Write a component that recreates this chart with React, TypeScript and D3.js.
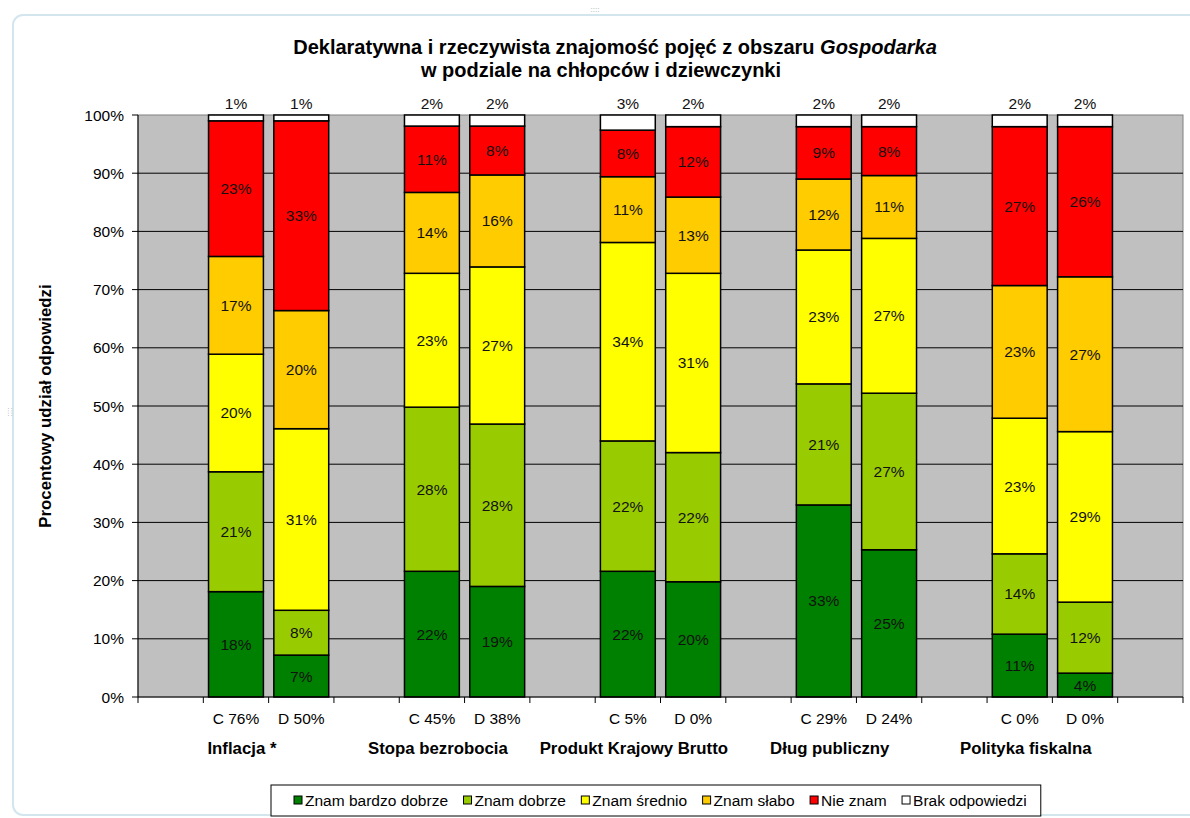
import React from "react";
import * as d3 from "d3";

// tytuł i kategorie
const titleLine1 = "Deklaratywna i rzeczywista znajomość pojęć z obszaru ";
const titleItalic = "Gospodarka";
const titleLine2 = "w podziale na chłopców i dziewczynki";
const yAxisTitle = "Procentowy udział odpowiedzi";

const categories = [
  "Inflacja *",
  "Stopa bezrobocia",
  "Produkt Krajowy Brutto",
  "Dług publiczny",
  "Polityka fiskalna",
];
const barLabels = [
  "C 76%", "D 50%",
  "C 45%", "D 38%",
  "C 5%", "D 0%",
  "C 29%", "D 24%",
  "C 0%", "D 0%",
];
const yTicks = [0, 10, 20, 30, 40, 50, 60, 70, 80, 90, 100];

// wartości (procent), po kolei: Inflacja C, D, Stopa C, D, PKB C, D, Dług C, D, Polityka C, D
const znamBardzoDobrze = [18.1, 7.2, 21.6, 19.0, 21.6, 19.8, 33.0, 25.3, 10.8, 4.1];
const znamDobrze = [20.6, 7.7, 28.2, 27.9, 22.4, 22.2, 20.8, 26.9, 13.8, 12.2];
const znamSrednio = [20.2, 31.2, 23.0, 27.0, 34.1, 30.8, 23.0, 26.6, 23.3, 29.3];
const znamSlabo = [16.8, 20.3, 13.9, 15.8, 11.3, 13.1, 12.2, 10.8, 22.8, 26.6];
const nieZnam = [23.3, 32.6, 11.4, 8.4, 8.0, 12.1, 9.0, 8.4, 27.3, 25.8];
const brakOdpowiedzi = [1.0, 1.0, 1.9, 1.9, 2.6, 2.0, 2.0, 2.0, 2.0, 2.0];

const seriesNames = [
  "Znam bardzo dobrze",
  "Znam dobrze",
  "Znam średnio",
  "Znam słabo",
  "Nie znam",
  "Brak odpowiedzi",
];
const seriesColors = ["#008000", "#99cc00", "#ffff00", "#ffcc00", "#ff0000", "#ffffff"];
const seriesValues = [znamBardzoDobrze, znamDobrze, znamSrednio, znamSlabo, nieZnam, brakOdpowiedzi];

const FONT = "Arial, 'Liberation Sans', Helvetica, sans-serif";
const FS = 15.5; // zwykły tekst
const FSB = 16.8; // pogrubione etykiety

function textWidth(text: string, font: string) {
  const c = document.createElement("canvas").getContext("2d");
  if (!c) return text.length * 7.5;
  c.font = font;
  return c.measureText(text).width;
}

export default function App() {
  const width = 1190;
  const height = 818;
  const plotLeft = 138;
  const plotRight = 1183;
  const plotTop = 115;
  const plotBottom = 697;

  // 16 miejsc: puste, C, D, puste, C, D, ... , puste
  const slotCount = categories.length * 3 + 1;
  const x = d3.scaleBand<number>().domain(d3.range(slotCount)).range([plotLeft, plotRight]);
  const y = d3.scaleLinear().domain([0, 100]).range([plotBottom, plotTop]);
  const slotOf = (i: number) => 1 + 3 * Math.floor(i / 2) + (i % 2);
  const barW = x.bandwidth() * 0.84;

  const stackData = barLabels.map((_, i) => {
    const row: Record<string, number> = {};
    seriesNames.forEach((s, k) => (row[s] = seriesValues[k][i]));
    return row;
  });
  const stacked = d3.stack<Record<string, number>>().keys(seriesNames)(stackData);

  // legenda
  const legendFont = `${FS}px ${FONT}`;
  const legendGap = 15.5;
  const legendItems: { name: string; color: string; x: number }[] = [];
  let lx = 294;
  seriesNames.forEach((s, k) => {
    legendItems.push({ name: s, color: seriesColors[k], x: lx });
    lx += 11 + textWidth(s, legendFont) + legendGap;
  });
  const legendRight = lx - legendGap + 14;

  return (
    <svg
      width={width}
      height={height}
      style={{ position: "absolute", left: 0, top: 0, background: "#fff" }}
      fontFamily={FONT}
    >
      <rect x={13} y={15} width={1200} height={800} rx={10} fill="#fff" stroke="#d3e6ee" strokeWidth={2} />
      <text x={595} y={12} fontSize={8} fill="#9aa" textAnchor="middle">::::</text>
      <text x={8} y={412} fontSize={8} fill="#9aa" textAnchor="middle" transform="rotate(90 8 412)">::::</text>

      {/* tytuł */}
      <text x={615} y={54} textAnchor="middle" fontSize={20} fontWeight="bold">
        {titleLine1}
        <tspan fontStyle="italic">{titleItalic}</tspan>
      </text>
      <text x={601} y={77} textAnchor="middle" fontSize={20} fontWeight="bold">
        {titleLine2}
      </text>

      {/* obszar wykresu */}
      <rect x={plotLeft} y={plotTop} width={plotRight - plotLeft} height={plotBottom - plotTop} fill="#c0c0c0" stroke="#808080" />
      {yTicks.filter((t) => t > 0 && t < 100).map((t) => (
        <line key={t} x1={plotLeft} x2={plotRight} y1={y(t)} y2={y(t)} stroke="#000" strokeWidth={1} />
      ))}

      {/* słupki */}
      {stacked.map((layer, k) =>
        layer.map((d, i) => {
          const cx = (x(slotOf(i)) as number) + x.bandwidth() / 2;
          return (
            <rect
              key={`${k}-${i}`}
              x={cx - barW / 2}
              y={y(d[1])}
              width={barW}
              height={y(d[0]) - y(d[1])}
              fill={seriesColors[k]}
              stroke="#000"
              strokeWidth={1.5}
            />
          );
        })
      )}

      {/* etykiety danych */}
      {stacked.map((layer, k) =>
        layer.map((d, i) => {
          const cx = (x(slotOf(i)) as number) + x.bandwidth() / 2;
          const v = d[1] - d[0];
          const last = k === stacked.length - 1;
          const ty = last ? y(d[1]) - 6 : (y(d[0]) + y(d[1])) / 2 + 5.5;
          return (
            <text key={`l${k}-${i}`} x={cx} y={ty} textAnchor="middle" fontSize={FS} fill="#111">
              {`${Math.round(v)}%`}
            </text>
          );
        })
      )}

      {/* oś Y */}
      <line x1={plotLeft} x2={plotLeft} y1={plotTop} y2={plotBottom} stroke="#000" />
      {yTicks.map((t) => (
        <g key={t}>
          <line x1={plotLeft - 6} x2={plotLeft} y1={y(t)} y2={y(t)} stroke="#000" />
          <text x={plotLeft - 14} y={y(t) + 5.5} textAnchor="end" fontSize={FS} fill="#000">
            {`${t}%`}
          </text>
        </g>
      ))}
      <text
        transform={`translate(51, ${(plotTop + plotBottom) / 2}) rotate(-90)`}
        textAnchor="middle"
        fontSize={FSB}
        fontWeight="bold"
      >
        {yAxisTitle}
      </text>

      {/* oś X */}
      <line x1={plotLeft} x2={plotRight} y1={plotBottom} y2={plotBottom} stroke="#000" />
      {d3.range(slotCount + 1).map((s) => {
        const tx = plotLeft + s * x.step();
        return <line key={s} x1={tx} x2={tx} y1={plotBottom} y2={plotBottom + 6} stroke="#000" />;
      })}
      {barLabels.map((lab, i) => {
        const cx = (x(slotOf(i)) as number) + x.bandwidth() / 2;
        return (
          <text key={lab + i} x={cx} y={724} textAnchor="middle" fontSize={FS}>
            {lab}
          </text>
        );
      })}
      {categories.map((c, g) => {
        const cx = (x(slotOf(g * 2)) as number) + x.bandwidth() / 2 + 6;
        return (
          <text key={c} x={cx} y={754} textAnchor="middle" fontSize={FSB} fontWeight="bold">
            {c}
          </text>
        );
      })}

      {/* legenda */}
      <rect x={271} y={785} width={legendRight - 271} height={31} fill="#fff" stroke="#000" />
      {legendItems.map((it) => (
        <g key={it.name}>
          <rect x={it.x} y={796} width={8} height={8} fill={it.color} stroke="#000" />
          <text x={it.x + 11} y={806} fontSize={FS}>
            {it.name}
          </text>
        </g>
      ))}
    </svg>
  );
}
